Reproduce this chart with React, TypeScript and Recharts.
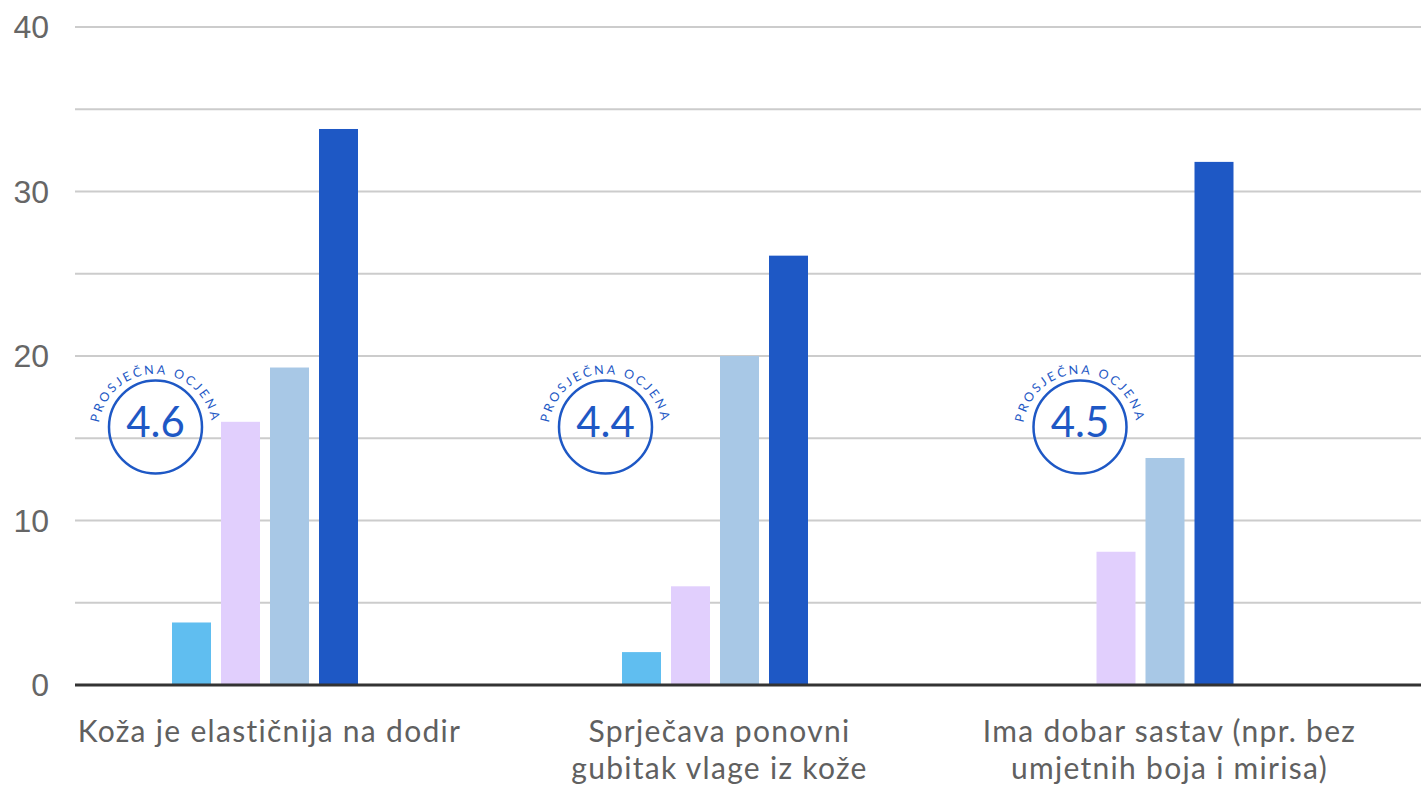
import { BarChart, Bar, XAxis, YAxis, CartesianGrid } from 'recharts';

// category labels (line breaks as in the picture)
const categories = [
  'Koža je elastičnija na dodir',
  'Sprječava ponovni\ngubitak vlage iz kože',
  'Ima dobar sastav (npr. bez\numjetnih boja i mirisa)',
];

// bar values per series
const seriesA = [3.8, 2, 0];
const seriesB = [16, 6, 8.1];
const seriesC = [19.3, 20, 13.8];
const seriesD = [33.8, 26.1, 31.8];

// average rating shown in the circle badge
const averages = ['4.6', '4.4', '4.5'];

const yTicks = [0, 5, 10, 15, 20, 25, 30, 35, 40];

const KEYS = ['a', 'b', 'c', 'd'];
const COLORS = ['#60BEF0', '#E1CFFD', '#A8C8E6', '#1E58C5'];
const BADGE = '#1E58C5';
const BAR_SIZE = 39;
const BAR_GAP = 10;
const STEP = BAR_SIZE + BAR_GAP;

const data = categories.map((name, i) => ({
  name,
  a: seriesA[i],
  b: seriesB[i],
  c: seriesC[i],
  d: seriesD[i],
}));

// empty bars are left out of the group, so the rest close up around the centre
function shiftFor(row: any, i: number) {
  let before = 0;
  let after = 0;
  KEYS.forEach((k, j) => {
    if (!row[k]) {
      if (j < i) before++;
      else if (j > i) after++;
    }
  });
  return ((after - before) * STEP) / 2;
}

const makeShape = (i: number) => (props: any) => {
  const { x, y, width, height, fill, payload } = props;
  if (!height) return <g />;
  return <rect x={x + shiftFor(payload, i)} y={y} width={width} height={height} fill={fill} />;
};

function Badge({ cx, cy, value, id }: { cx: number; cy: number; value: string; id: string }) {
  const r = 57;
  return (
    <g>
      <defs>
        <path id={id} d={`M ${cx - r} ${cy + 4} A ${r} ${r} 0 0 1 ${cx + r} ${cy + 4}`} />
      </defs>
      <circle cx={cx} cy={cy} r={46.5} fill="none" stroke={BADGE} strokeWidth={2.5} />
      <text fontFamily="Lato" fontSize={12.5} letterSpacing={2.5} fill={BADGE}>
        <textPath href={`#${id}`} startOffset="50%" textAnchor="middle">
          PROSJEČNA OCJENA
        </textPath>
      </text>
      <text x={cx} y={cy + 10} textAnchor="middle" fontFamily="Lato" fontSize={42} fill={BADGE}>
        {value}
      </text>
    </g>
  );
}

function CategoryTick(props: any) {
  const { x, y, payload } = props;
  const idx = payload.index ?? props.index;
  const lines = String(payload.value).split('\n');
  const row = data[idx];
  const first = KEYS.findIndex((k) => row[k as keyof typeof row]);
  const barCenter = x + (first - 1.5) * STEP + shiftFor(row, first);
  return (
    <g>
      <Badge cx={barCenter - 36} cy={y - 258} value={averages[idx]} id={`badge-arc-${idx}`} />
      <text
        x={x + 4.5}
        y={y + 57}
        textAnchor="middle"
        fontFamily="Lato"
        fontSize={30}
        letterSpacing={1.3}
        fill="#606060"
      >
        {lines.map((line, i) => (
          <tspan key={i} x={x + 4.5} dy={i === 0 ? 0 : 37}>
            {line}
          </tspan>
        ))}
      </text>
    </g>
  );
}

export default function App() {
  return (
    <div style={{ position: 'absolute', left: 0, top: 0, background: '#fff' }}>
      <BarChart
        width={1421}
        height={790}
        data={data}
        margin={{ top: 27, right: 0, bottom: 0, left: 0 }}
        barGap={BAR_GAP}
        barSize={BAR_SIZE}
      >
        <CartesianGrid vertical={false} stroke="#cccccc" strokeWidth={2} />
        <XAxis
          dataKey="name"
          height={105}
          padding={{ left: -35, right: 31 }}
          axisLine={{ stroke: '#333333', strokeWidth: 3 }}
          tickLine={false}
          tickSize={0}
          tickMargin={0}
          interval={0}
          tick={<CategoryTick />}
        />
        <YAxis
          width={75}
          domain={[0, 40]}
          ticks={yTicks}
          interval={0}
          axisLine={false}
          tickLine={false}
          tickSize={0}
          tickMargin={26}
          tickFormatter={(v: number) => (v % 10 === 0 ? String(v) : '')}
          tick={{ fill: '#666666', fontSize: 32, fontFamily: 'Liberation Sans' }}
        />
        {KEYS.map((k, i) => (
          <Bar key={k} dataKey={k} fill={COLORS[i]} isAnimationActive={false} shape={makeShape(i)} />
        ))}
      </BarChart>
    </div>
  );
}
